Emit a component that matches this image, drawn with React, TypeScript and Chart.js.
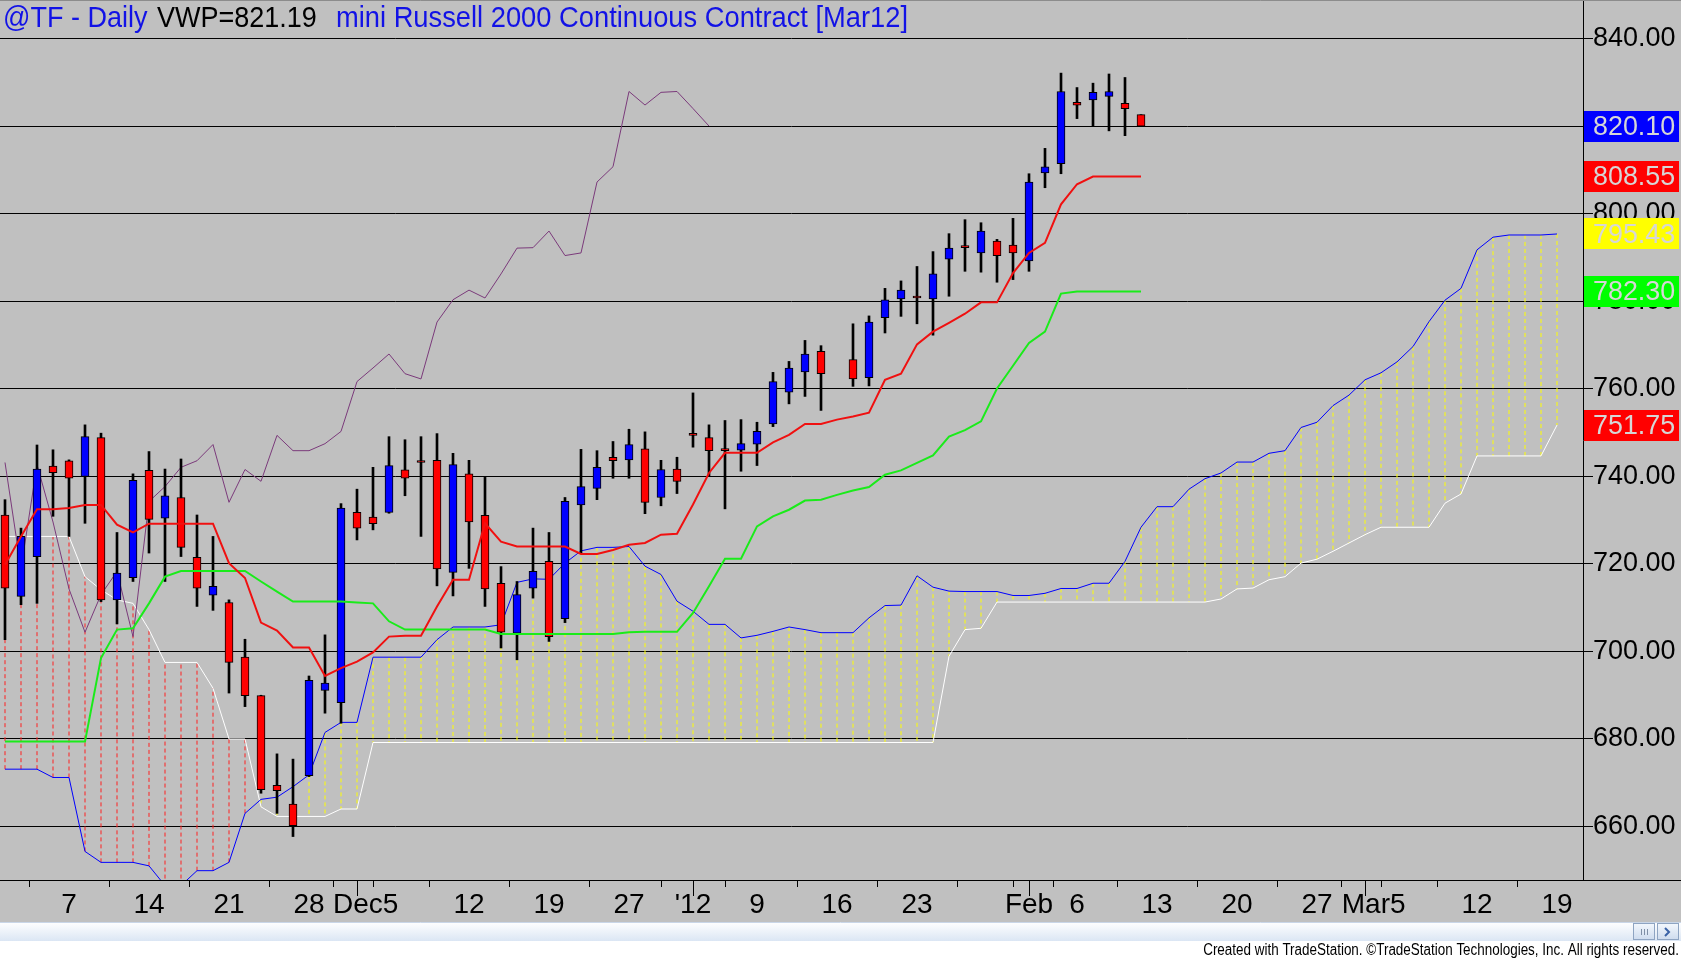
import { useEffect, useRef } from "react"
import { Chart, registerables } from "chart.js"

Chart.register(...registerables)

const FONT = "'Liberation Sans', Arial, Helvetica, sans-serif"
const NB = "\u00a0"

// x axis: one slot per trading day, slot 0 = Nov 1 2011 (slot 52 = Jan 16, no bar)
const tickSlots = [4, 9, 14, 19, 22, 24, 29, 34, 39, 43, 47, 52, 57, 62, 64, 67, 72, 77, 82, 85, 87, 92, 97]
const tickLabels = ["7", "14", "21", "28", "", "Dec5", "12", "19", "27", "'12", "9", "16", "23", "", "Feb", "6", "13", "20", "27", "", "Mar5", "12", "19"]
const monthSlots = [22, 43, 64, 85]

const priceTicks = [660, 680, 700, 720, 740, 760, 780, 800, 820, 840]

// daily candles
const opens = [
  731.2, 712.6, 721.7, 742.4, 743.6, 740.0, 748.9, 711.8, 716.9, 741.4,
  730.5, 735.2, 721.5, 712.9, 711.2, 698.7, 689.9, 669.4, 665.1, 671.6,
  691.1, 688.3, 731.8, 730.7, 731.8, 741.5, 743.3, 743.7, 718.1, 740.6,
  731.1, 715.6, 704.2, 714.5, 720.6, 707.5, 733.5, 737.3, 744.4, 743.8,
  746.3, 735.2, 741.7, 749.5, 748.9, 746.0, 746.0, 747.4, 752.0, 759.3,
  763.9, 768.6, null, 766.7, 762.6, 776.3, 780.6, 781.0, 780.6, 789.7,
  792.4, 791.1, 793.8, 792.9, 789.3, 809.4, 811.5, 825.5, 826.1, 826.9,
  825.3, 822.7,
]
const highs = [
  734.7, 728.2, 747.2, 746.1, 743.8, 751.8, 749.9, 727.2, 740.6, 745.7,
  741.7, 744.0, 731.2, 726.3, 711.8, 702.8, 690.0, 676.6, 675.4, 694.4,
  703.8, 733.8, 737.1, 742.1, 749.1, 748.4, 749.1, 749.8, 745.3, 743.7,
  739.8, 719.4, 716.0, 728.2, 727.2, 735.2, 746.2, 745.9, 748.0, 750.8,
  750.2, 743.7, 744.4, 759.1, 751.8, 752.8, 753.0, 752.4, 763.8, 766.3,
  771.1, 769.9, null, 774.9, 776.7, 783.0, 784.7, 788.0, 791.4, 795.5,
  798.7, 798.0, 794.2, 799.0, 809.2, 815.0, 832.2, 828.9, 829.9, 832.0,
  831.2, 822.7,
]
const lows = [
  702.7, 710.7, 711.0, 730.9, 726.3, 729.3, 711.4, 706.3, 716.0, 722.5,
  716.0, 721.7, 710.3, 709.4, 690.5, 687.4, 667.6, 663.0, 657.7, 671.4,
  685.9, 683.6, 725.5, 727.8, 731.6, 735.6, 726.3, 715.0, 712.7, 719.0,
  710.3, 700.8, 698.1, 712.2, 702.3, 706.6, 722.5, 734.7, 739.6, 739.6,
  731.5, 733.3, 736.1, 746.7, 740.0, 732.6, 741.2, 742.5, 751.4, 756.6,
  758.3, 755.1, null, 760.6, 760.7, 772.8, 776.6, 774.9, 772.3, 781.2,
  786.9, 786.7, 784.4, 785.0, 786.9, 806.0, 809.2, 821.8, 820.0, 819.0,
  817.9, 820.1,
]
const closes = [
  714.5, 726.3, 741.7, 740.9, 739.6, 749.1, 711.8, 717.9, 739.1, 730.2,
  735.6, 723.8, 714.5, 714.9, 697.5, 689.9, 668.4, 668.2, 660.2, 693.4,
  692.8, 732.8, 728.2, 729.2, 742.5, 739.6, 743.2, 718.9, 742.7, 729.6,
  714.3, 704.4, 713.0, 718.3, 703.4, 734.3, 737.7, 742.1, 743.6, 747.3,
  734.1, 741.6, 738.9, 749.4, 745.9, 745.9, 747.5, 750.3, 761.7, 764.8,
  768.0, 763.5, null, 762.3, 775.3, 780.4, 782.6, 780.8, 786.3, 792.2,
  792.3, 796.1, 790.5, 791.1, 807.3, 810.8, 828.0, 824.9, 827.8, 828.0,
  824.1, 820.1,
]

// conversion line (red) and base line (green)
const tenkan = [
  719.8, 726.3, 732.5, 732.5, 732.8, 733.5, 733.5, 729.0, 727.2, 729.2,
  729.2, 729.2, 729.2, 729.2, 720.2, 716.8, 706.6, 704.8, 700.9, 700.9,
  694.4, 696.2, 697.7, 699.8, 703.4, 703.6, 703.6, 710.3, 716.4, 716.4,
  729.3, 725.1, 724.0, 724.0, 724.0, 724.0, 722.3, 722.3, 723.2, 724.4,
  724.8, 726.7, 726.9, 733.6, 740.8, 745.4, 745.4, 745.4, 747.8, 749.5,
  752.0, 752.0, 753.0, 753.7, 754.6, 762.1, 763.5, 770.2, 773.1, 775.1,
  777.2, 779.8, 779.8, 786.5, 791.1, 793.4, 802.2, 806.8, 808.55, 808.55,
  808.55, 808.55,
]
const kijun = [
  679.4, 679.4, 679.4, 679.4, 679.4, 679.4, 698.5, 705.0, 705.3, 711.0,
  717.1, 718.4, 718.4, 718.4, 718.4, 718.4, 716.0, 713.7, 711.4, 711.4,
  711.4, 711.4, 711.2, 711.0, 706.9, 705.0, 705.0, 705.0, 705.0, 705.0,
  705.0, 704.0, 704.0, 704.0, 704.0, 704.0, 704.0, 704.0, 704.0, 704.4,
  704.5, 704.5, 704.5, 708.8, 714.9, 721.2, 721.2, 728.6, 730.9, 732.4,
  734.5, 734.7, 735.8, 736.8, 737.6, 740.4, 741.4, 743.1, 744.8, 749.1,
  750.6, 752.6, 760.1, 765.3, 770.5, 773.1, 781.8, 782.3, 782.3, 782.3,
  782.3, 782.3,
]

// leading spans (already shifted forward), blue = A, white = B
const spanA = [
  673.1, 673.1, 673.1, 671.2, 671.2, 654.3, 651.8, 651.8, 651.8, 651.0,
  646.5, 646.5, 649.9, 649.9, 651.8, 663.0, 666.2, 666.7, 669.1, 671.8,
  681.5, 683.8, 683.8, 698.7, 698.7, 698.7, 698.7, 702.7, 705.6, 705.6,
  705.6, 706.1, 715.8, 716.6, 716.5, 720.2, 723.0, 723.8, 723.8, 724.0,
  719.5, 717.6, 711.5, 709.2, 706.2, 706.2, 703.1, 703.7, 704.6, 705.6,
  705.0, 704.3, 704.3, 704.3, 707.7, 710.5, 710.6, 717.3, 714.7, 713.8,
  713.7, 713.7, 713.7, 712.8, 712.8, 713.3, 714.4, 714.4, 715.6, 715.6,
  720.6, 728.4, 733.1, 733.1, 737.1, 739.5, 740.8, 743.3, 743.3, 745.3,
  745.9, 751.2, 752.4, 756.2, 758.6, 762.1, 763.7, 766.2, 769.7, 775.4,
  780.3, 783.0, 791.8, 794.7, 795.2, 795.2, 795.2, 795.43,
]
const spanB = [
  726.3, 726.3, 726.3, 726.3, 726.3, 717.1, 714.1, 711.8, 711.0, 705.0,
  697.5, 697.5, 697.5, 691.6, 680.0, 680.0, 664.5, 662.3, 662.3, 662.3,
  662.3, 664.0, 664.0, 679.2, 679.2, 679.2, 679.2, 679.2, 679.2, 679.2,
  679.2, 679.2, 679.2, 679.2, 679.2, 679.2, 679.2, 679.2, 679.2, 679.2,
  679.2, 679.2, 679.2, 679.2, 679.2, 679.2, 679.2, 679.2, 679.2, 679.2,
  679.2, 679.2, 679.2, 679.2, 679.2, 679.2, 679.2, 679.2, 679.2, 698.9,
  705.0, 705.3, 711.3, 711.3, 711.3, 711.3, 711.3, 711.3, 711.3, 711.3,
  711.3, 711.3, 711.3, 711.3, 711.3, 711.3, 712.0, 714.3, 714.5, 716.4,
  717.1, 720.2, 721.1, 722.9, 724.8, 726.7, 728.4, 728.4, 728.4, 728.4,
  733.9, 736.0, 744.7, 744.7, 744.7, 744.7, 744.7, 751.75,
]

// last-value markers on the price axis
const markerValues = [820.1, 808.55, 795.43, 782.3, 751.75]
const markerColors = ["#0000ff", "#ff0000", "#ffff00", "#00ff00", "#ff0000"]

const LAG = 26

function squeezeText(ctx: CanvasRenderingContext2D, text: string, x: number, y: number, size: number, sx: number, align = "left") {
  ctx.save()
  ctx.font = `${size}px ${FONT}`
  ctx.textBaseline = "middle"
  ctx.textAlign = "left"
  const w = ctx.measureText(text).width * sx
  let left = x
  if (align === "right") left = x - w
  if (align === "center") left = x - w / 2
  ctx.translate(left, y)
  ctx.scale(sx, 1)
  ctx.fillText(text, 0, 0)
  ctx.restore()
  return w
}

const backdrop = {
  id: "backdrop",
  beforeDraw(chart: any) {
    const { ctx, width, height } = chart
    ctx.save()
    ctx.fillStyle = "#c0c0c0"
    ctx.fillRect(0, 0, width, height)
    ctx.restore()
  },
}

const overlay = {
  id: "overlay",
  afterDraw(chart: any) {
    const { ctx, width, height, chartArea } = chart
    const xs = chart.scales.x
    const ys = chart.scales.y
    ctx.save()

    // long ticks at month starts, axis line under the price scale
    ctx.strokeStyle = "#000"
    ctx.lineWidth = 1
    ctx.beginPath()
    monthSlots.forEach((s) => {
      const px = Math.round(xs.getPixelForValue(s)) + 0.5
      ctx.moveTo(px, chartArea.bottom)
      ctx.lineTo(px, chartArea.bottom + 16)
    })
    ctx.moveTo(chartArea.right, chartArea.bottom + 0.5)
    ctx.lineTo(width, chartArea.bottom + 0.5)
    ctx.stroke()

    // top frame line
    ctx.strokeStyle = "#8c8c8c"
    ctx.beginPath()
    ctx.moveTo(0, 0.5)
    ctx.lineTo(width, 0.5)
    ctx.stroke()

    // value markers
    markerValues.forEach((v, i) => {
      const py = ys.getPixelForValue(v)
      ctx.fillStyle = markerColors[i]
      ctx.fillRect(chartArea.right + 1, Math.round(py - 15.5), width - chartArea.right - 3, 31)
      ctx.fillStyle = "#d6d6d6"
      squeezeText(ctx, v.toFixed(2), chartArea.right + 10, py + 1, 28, 0.96)
    })

    // title
    ctx.fillStyle = "#1212e6"
    squeezeText(ctx, "@TF - Daily", 3, 19, 30, 0.9)
    ctx.fillStyle = "#000"
    squeezeText(ctx, "VWP=821.19", 157, 19, 30, 0.9)
    ctx.fillStyle = "#1212e6"
    squeezeText(ctx, "mini Russell 2000 Continuous Contract [Mar12]", 336, 19, 30, 0.91)

    // scroll bar
    const top = 922
    const g = ctx.createLinearGradient(0, top, 0, top + 19)
    g.addColorStop(0, "#ffffff")
    g.addColorStop(1, "#dbe6f4")
    ctx.fillStyle = g
    ctx.fillRect(0, top, width, 19)
    ctx.strokeStyle = "#c9d6e8"
    ctx.beginPath()
    ctx.moveTo(0, top + 0.5)
    ctx.lineTo(width, top + 0.5)
    ctx.stroke()
    const btn = (bx: number) => {
      const bg = ctx.createLinearGradient(0, top + 1, 0, top + 18)
      bg.addColorStop(0, "#f4f8fd")
      bg.addColorStop(1, "#cddbee")
      ctx.fillStyle = bg
      ctx.fillRect(bx, top + 1, 22, 17)
      ctx.strokeStyle = "#8ea4c2"
      ctx.strokeRect(bx + 0.5, top + 1.5, 21, 16)
    }
    btn(1633)
    btn(1657)
    ctx.strokeStyle = "#7f8fa6"
    ctx.beginPath()
    for (let k = 0; k < 3; k++) {
      ctx.moveTo(1641.5 + k * 3, top + 7)
      ctx.lineTo(1641.5 + k * 3, top + 13)
    }
    ctx.stroke()
    ctx.strokeStyle = "#3a62a6"
    ctx.lineWidth = 2
    ctx.beginPath()
    ctx.moveTo(1665, top + 6)
    ctx.lineTo(1669, top + 10)
    ctx.lineTo(1665, top + 14)
    ctx.stroke()

    // footer
    ctx.fillStyle = "#ffffff"
    ctx.fillRect(0, top + 19, width, height - top - 19)
    ctx.fillStyle = "#000"
    squeezeText(ctx, "Created with TradeStation. ©TradeStation Technologies, Inc. All rights reserved.", width - 2, 951, 16, 0.84, "right")
    ctx.restore()
  },
}

// "Dec5" / "Mar5": day number sits on the tick, month name hangs to its left
const padLabel = (s: string) => (/^[A-Z][a-z]{2}\d/.test(s) ? s + NB.repeat(6) : s)

export default function App() {
  const canvasRef = useRef<HTMLCanvasElement>(null)

  useEffect(() => {
    document.body.style.margin = "0"
    document.body.style.overflow = "hidden"
    if (!canvasRef.current) return

    const barSlots = closes.map((c, i) => (c == null ? -1 : i)).filter((i) => i >= 0)
    const wicks = barSlots.map((i) => ({ x: i, y: [lows[i], highs[i]] }))
    const bodies = barSlots.map((i) => ({ x: i, y: [opens[i], closes[i]] }))
    const bodyColors = barSlots.map((i) => ((closes[i] as number) >= (opens[i] as number) ? "#0000ff" : "#ff0000"))
    const lagging = barSlots.slice(LAG).map((s, k) => ({ x: barSlots[k], y: closes[s] }))
    const cloud: any[] = []
    spanA.forEach((a, i) => {
      cloud.push({ x: i, y: a }, { x: i, y: spanB[i] }, { x: i, y: null })
    })
    const asLine = (arr: number[]) => arr.map((v, i) => ({ x: i, y: v }))

    const chart = new Chart(canvasRef.current, {
      type: "line",
      data: {
        datasets: [
          {
            type: "line",
            data: cloud,
            borderWidth: 1,
            borderDash: [4, 3],
            pointRadius: 0,
            spanGaps: false,
            segment: {
              borderColor: (c: any) => (c.p1.parsed.y > c.p0.parsed.y ? "#ff2020" : "#ffff00"),
            },
            order: 10,
          },
          { type: "line", data: asLine(spanB), borderColor: "#ffffff", borderWidth: 1, pointRadius: 0, order: 9 },
          { type: "line", data: asLine(spanA), borderColor: "#0000ff", borderWidth: 1, pointRadius: 0, order: 8 },
          { type: "line", data: lagging, borderColor: "#7b3a7b", borderWidth: 1, pointRadius: 0, order: 7 },
          {
            type: "bar",
            data: wicks,
            backgroundColor: "#000000",
            barThickness: 2,
            grouped: false,
            order: 6,
          },
          {
            type: "bar",
            data: bodies,
            backgroundColor: bodyColors,
            borderColor: "#000000",
            borderWidth: 1,
            borderSkipped: false,
            barThickness: 8,
            minBarLength: 2,
            grouped: false,
            order: 5,
          },
          { type: "line", data: asLine(kijun), borderColor: "#1aeb1a", borderWidth: 2, pointRadius: 0, order: 2 },
          { type: "line", data: asLine(tenkan), borderColor: "#f01010", borderWidth: 2, pointRadius: 0, order: 1 },
        ] as any,
      },
      options: {
        responsive: false,
        animation: false,
        events: [],
        layout: { padding: { left: 0, top: 0, right: 0, bottom: 40 } },
        plugins: { legend: { display: false }, tooltip: { enabled: false } },
        scales: {
          x: {
            type: "linear",
            min: -0.3125,
            max: 98.625,
            offset: false,
            afterBuildTicks: (s: any) => {
              s.ticks = tickSlots.map((v) => ({ value: v }))
            },
            afterFit: (s: any) => {
              s.height = 41
              s.paddingLeft = 0
              s.paddingRight = 0
            },
            grid: { drawOnChartArea: false, drawTicks: true, tickLength: 7, color: "#000", lineWidth: 1 },
            border: { display: true, color: "#000", width: 1 },
            ticks: {
              autoSkip: false,
              maxRotation: 0,
              minRotation: 0,
              padding: 1,
              color: "#000",
              font: { family: FONT, size: 28 },
              callback: (_v: any, i: number) => padLabel(tickLabels[i]),
            },
          },
          y: {
            position: "right",
            min: 647.77,
            max: 848.91,
            afterBuildTicks: (s: any) => {
              s.ticks = priceTicks.map((v) => ({ value: v }))
            },
            afterFit: (s: any) => {
              s.width = 98
              s.paddingTop = 0
              s.paddingBottom = 0
            },
            grid: { color: "#000", lineWidth: 1, tickLength: 10, drawTicks: true },
            border: { display: true, color: "#000", width: 1 },
            ticks: {
              padding: 0,
              color: "#000",
              font: { family: FONT, size: 27 },
              callback: (v: any) => Number(v).toFixed(2),
            },
          },
        },
      } as any,
      plugins: [backdrop, overlay],
    })

    return () => {
      chart.destroy()
    }
  }, [])

  return <canvas ref={canvasRef} width={1681} height={961} style={{ display: "block" }} />
}
